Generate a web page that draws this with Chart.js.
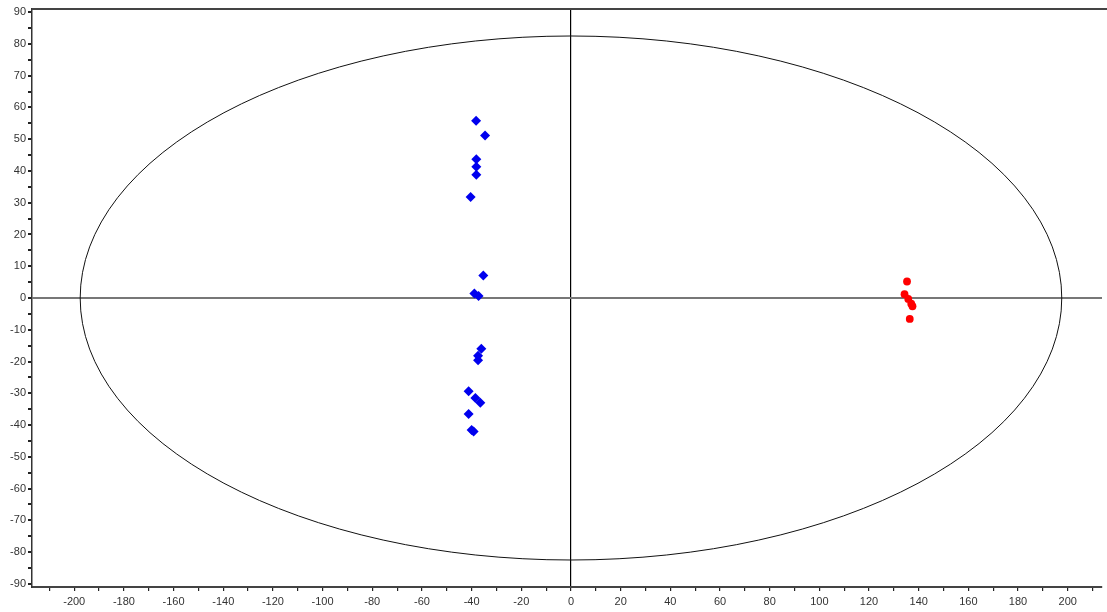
<!DOCTYPE html>
<html>
<head>
<meta charset="utf-8">
<script src="https://cdn.jsdelivr.net/npm/chart.js@4/dist/chart.umd.min.js"></script>
<style>
  html, body { margin: 0; padding: 0; background: #fff; }
  #wrap { width: 1107px; height: 612px; position: relative; }
</style>
</head>
<body>
<div id="wrap"><canvas id="chart"></canvas></div>
<script>
// scores
const groupA = [
  [-38.2, 55.8], [-34.6, 51.2], [-38.1, 43.7], [-38.1, 41.3], [-38.1, 38.8],
  [-40.4, 31.8], [-35.3, 7.1], [-38.9, 1.4], [-37.2, 0.6], [-36.1, -16.0],
  [-37.4, -18.2], [-37.4, -19.6], [-41.2, -29.4], [-38.5, -31.5], [-36.5, -33.0],
  [-41.2, -36.5], [-40.0, -41.6], [-39.2, -42.0]
];
const groupB = [
  [135.3, 5.2], [134.3, 1.2], [135.8, -0.3], [137.0, -1.8], [137.5, -2.6], [136.4, -6.6]
];
// confidence ellipse half-axes
const ellipseX = 197.6;
const ellipseY = 82.5;

const xRange = [-217, 213.8];
const yRange = [-91, 91];

const toPoints = arr => arr.map(p => ({x: p[0], y: p[1]}));

const framePlugin = {
  id: 'frame',
  beforeDatasetsDraw(chart) {
    const {ctx, chartArea, scales} = chart;
    const cx = scales.x.getPixelForValue(0);
    const cy = scales.y.getPixelForValue(0);
    const rx = scales.x.getPixelForValue(ellipseX) - cx;
    const ry = cy - scales.y.getPixelForValue(ellipseY);
    ctx.save();
    ctx.strokeStyle = '#111';
    ctx.lineWidth = 1;
    ctx.beginPath();
    ctx.ellipse(cx, cy, rx, ry, 0, 0, Math.PI * 2);
    ctx.stroke();
    // top border
    ctx.strokeStyle = '#444';
    ctx.lineWidth = 2;
    ctx.beginPath();
    ctx.moveTo(chartArea.left, chartArea.top);
    ctx.lineTo(chart.width, chartArea.top);
    ctx.stroke();
    ctx.restore();
  }
};

Chart.defaults.font.family = '"Liberation Sans", Arial, sans-serif';
Chart.defaults.font.size = 11;
Chart.defaults.color = '#333';

new Chart(document.getElementById('chart'), {
  type: 'scatter',
  data: {
    datasets: [
      {
        data: toPoints(groupA),
        pointStyle: 'rectRot',
        pointRadius: 5,
        backgroundColor: '#0000ee',
        borderColor: '#0000ee',
        borderWidth: 0
      },
      {
        data: toPoints(groupB),
        pointStyle: 'circle',
        pointRadius: 3.9,
        backgroundColor: '#ff0000',
        borderColor: '#ff0000',
        borderWidth: 0
      }
    ]
  },
  options: {
    responsive: true,
    maintainAspectRatio: false,
    animation: false,
    layout: {padding: {top: 9, left: 0, right: 0, bottom: 0}},
    plugins: {legend: {display: false}, tooltip: {enabled: false}},
    scales: {
      x: {
        min: xRange[0], max: xRange[1],
        afterFit: s => { s.height = 25; },
        border: {display: true, color: '#444', width: 2},
        grid: {
          color: c => c.tick && c.tick.value === 0 ? '#000' : 'rgba(0,0,0,0)',
          lineWidth: 1.2,
          tickColor: '#222',
          tickLength: 4
        },
        ticks: {
          stepSize: 10,
          includeBounds: false,
          autoSkip: false,
          maxRotation: 0,
          padding: 4,
          callback: v => v % 20 === 0 ? v : ''
        }
      },
      y: {
        min: yRange[0], max: yRange[1],
        afterFit: s => { s.width = 32; },
        border: {display: true, color: '#333', width: 1.5},
        grid: {
          color: c => c.tick && c.tick.value === 0 ? '#777' : 'rgba(0,0,0,0)',
          lineWidth: 2,
          tickColor: '#222',
          tickLength: 4
        },
        ticks: {
          stepSize: 5,
          includeBounds: false,
          autoSkip: false,
          padding: 2,
          callback: v => v % 10 === 0 ? v : ''
        }
      }
    }
  },
  plugins: [framePlugin]
});
</script>
</body>
</html>
